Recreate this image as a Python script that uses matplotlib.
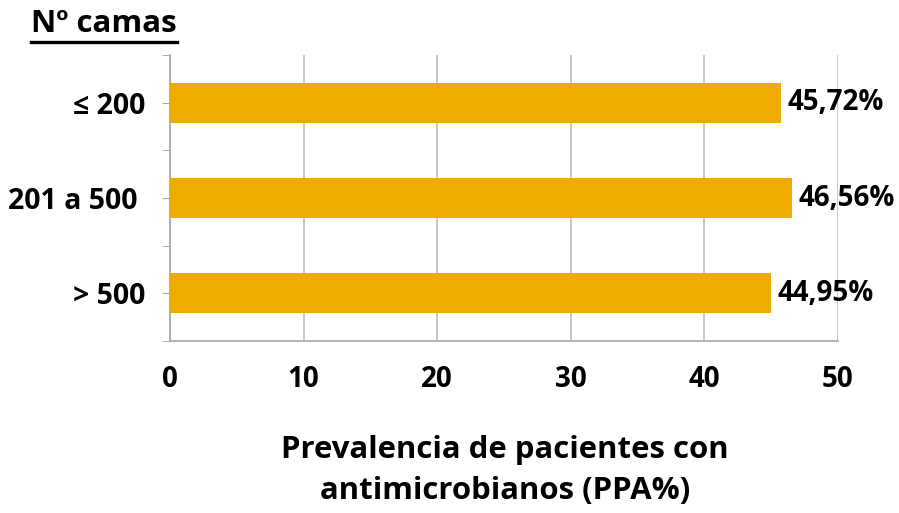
import matplotlib
matplotlib.use("Agg")
import matplotlib.pyplot as plt
from matplotlib.lines import Line2D

plt.rcParams['font.family'] = ['Open Sans', 'DejaVu Sans']
plt.rcParams['font.weight'] = 'bold'

categorias = ["\u2264 200", "201 a 500 ", "> 500"]
ppa = [45.72, 46.56, 44.95]
etiquetas = ["45,72%", "46,56%", "44,95%"]
xticks = [0, 10, 20, 30, 40, 50]

COLOR_BAR = "#F0AB00"
GRIS = "#A6A6A6"

fig = plt.figure(figsize=(8.99, 5.13), dpi=100)
ax = fig.add_axes([170 / 899, 1 - 341 / 513, 668 / 899, 286 / 513])

ypos = list(range(len(categorias)))
ax.barh(ypos, ppa, height=0.42, color=COLOR_BAR, zorder=3)
ax.set_ylim(len(categorias) - 0.5, -0.5)
ax.set_xlim(0, 50)

for y, v, lab in zip(ypos, ppa, etiquetas):
    ax.annotate(lab, (v, y), xytext=(5, 0), textcoords="offset points",
                ha="left", va="center", fontsize=20, fontweight="bold")

# ticks at bar centres and at category separators
ax.set_yticks(ypos)
ax.set_yticklabels(categorias, fontsize=20.5, fontweight="bold")
ax.set_yticks([y - 0.5 for y in ypos] + [len(ypos) - 0.5], minor=True)
ax.tick_params(axis="y", which="both", length=6, color=GRIS, pad=12)

ax.set_xticks(xticks)
ax.set_xticklabels([str(t) for t in xticks], fontsize=20, fontweight="bold")
ax.tick_params(axis="x", length=0, pad=17)
ax.grid(axis="x", color="#BFBFBF", linewidth=1.2, zorder=0)

for s in ("top", "right"):
    ax.spines[s].set_visible(False)
for s in ("left", "bottom"):
    ax.spines[s].set_color(GRIS)
    ax.spines[s].set_linewidth(1.2)

fig.text(505 / 899, 1 - 450 / 513, "Prevalencia de pacientes con",
         ha="center", va="center", fontsize=22.4, fontweight="bold")
fig.text(505 / 899, 1 - 491 / 513, "antimicrobianos (PPA%)",
         ha="center", va="center", fontsize=22.4, fontweight="bold")

# underlined header above the category labels
titulo = fig.text(31 / 899, 1 - 24 / 513, "N\u00ba camas", ha="left", va="center",
                  fontsize=22.5, fontweight="bold")
fig.canvas.draw()
bb = titulo.get_window_extent(fig.canvas.get_renderer()).transformed(fig.transFigure.inverted())
yline = 1 - 42 / 513
fig.add_artist(Line2D([bb.x0, bb.x1], [yline, yline], transform=fig.transFigure,
                      color="black", linewidth=2.4))

fig.savefig("out.png", dpi=100)
